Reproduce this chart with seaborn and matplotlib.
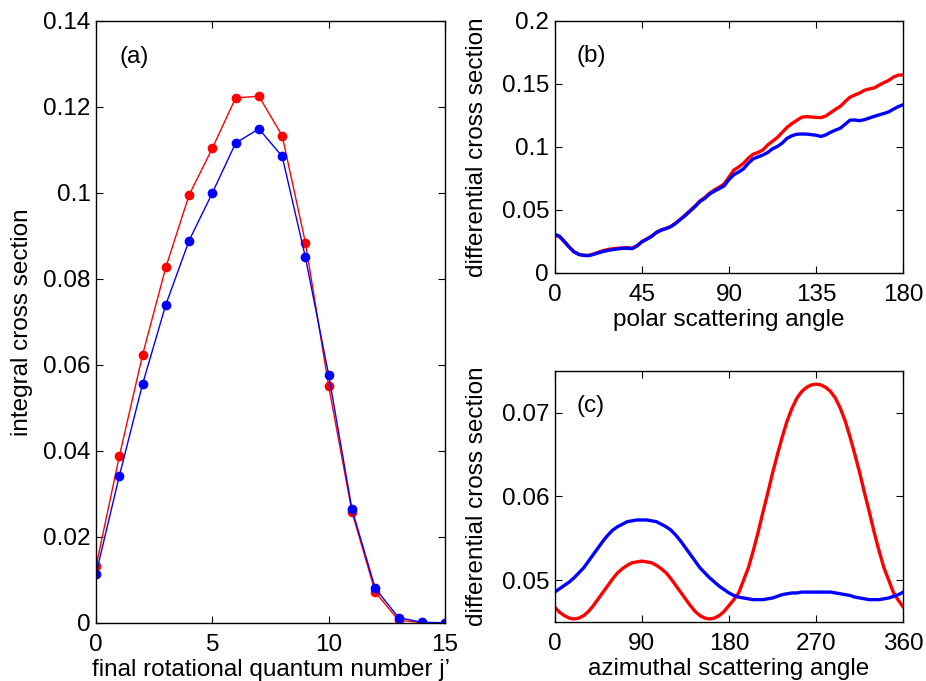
import matplotlib
matplotlib.use("Agg")
import matplotlib.pyplot as plt
import numpy as np
import pandas as pd
import seaborn as sns

# ---- data ----
j_values = list(range(16))
ics_red = [0.0131, 0.0387, 0.0623, 0.0827, 0.0995, 0.1104, 0.1221, 0.1225,
           0.1133, 0.0884, 0.0550, 0.0258, 0.0071, 0.0006, 0.0000, 0.0000]
ics_blue = [0.0114, 0.0341, 0.0555, 0.0740, 0.0889, 0.1000, 0.1116, 0.1149,
            0.1085, 0.0850, 0.0576, 0.0264, 0.0080, 0.0012, 0.0001, 0.0000]

# polar angle sampled every 2.5 degrees
polar_angle = np.arange(0, 180.1, 2.5)
dcs_polar_red = [
    0.0300, 0.0285, 0.0245, 0.0202, 0.0165, 0.0145, 0.0138, 0.0138, 0.0148,
    0.0162, 0.0175, 0.0184, 0.0190, 0.0194, 0.0197, 0.0198, 0.0195, 0.0214,
    0.0246, 0.0268, 0.0290, 0.0320, 0.0340, 0.0352, 0.0368, 0.0395, 0.0427,
    0.0460, 0.0495, 0.0530, 0.0570, 0.0597, 0.0632, 0.0658, 0.0680, 0.0705,
    0.0760, 0.0815, 0.0840, 0.0870, 0.0910, 0.0942, 0.0955, 0.0975, 0.1015,
    0.1045, 0.1075, 0.1115, 0.1155, 0.1185, 0.1210, 0.1235, 0.1240, 0.1237,
    0.1234, 0.1232, 0.1245, 0.1272, 0.1298, 0.1322, 0.1360, 0.1395, 0.1412,
    0.1428, 0.1450, 0.1460, 0.1468, 0.1490, 0.1510, 0.1528, 0.1555, 0.1570,
    0.1571]
dcs_polar_blue = [
    0.0305, 0.0290, 0.0248, 0.0204, 0.0166, 0.0145, 0.0137, 0.0135, 0.0145,
    0.0157, 0.0168, 0.0177, 0.0183, 0.0189, 0.0193, 0.0194, 0.0191, 0.0212,
    0.0245, 0.0265, 0.0288, 0.0318, 0.0338, 0.0350, 0.0366, 0.0392, 0.0423,
    0.0455, 0.0490, 0.0525, 0.0565, 0.0590, 0.0625, 0.0648, 0.0668, 0.0690,
    0.0740, 0.0778, 0.0800, 0.0825, 0.0870, 0.0905, 0.0920, 0.0935, 0.0955,
    0.0985, 0.1003, 0.1030, 0.1068, 0.1088, 0.1100, 0.1102, 0.1101, 0.1097,
    0.1092, 0.1082, 0.1095, 0.1116, 0.1133, 0.1148, 0.1180, 0.1212, 0.1213,
    0.1208, 0.1216, 0.1229, 0.1242, 0.1254, 0.1265, 0.1278, 0.1300, 0.1320,
    0.1335]

azimuth_angle = list(range(0, 361, 5))
dcs_azimuth_red = [
    0.0468, 0.0462, 0.0458, 0.0455, 0.0454, 0.0455, 0.0458, 0.0463, 0.0470,
    0.0478, 0.0486, 0.0494, 0.0502, 0.0509, 0.0514, 0.0518, 0.0521, 0.0522,
    0.0523,
    0.0522, 0.0521, 0.0518, 0.0514, 0.0509, 0.0502, 0.0494, 0.0486, 0.0478,
    0.0470, 0.0463, 0.0458, 0.0455, 0.0454, 0.0455, 0.0458, 0.0463, 0.0470,
    0.0477, 0.0485, 0.0500, 0.0515, 0.0535, 0.0557, 0.0581, 0.0604, 0.0628,
    0.0650, 0.0671, 0.0690, 0.0705, 0.0717, 0.0725, 0.0730, 0.0733, 0.0734,
    0.0733, 0.0730, 0.0725, 0.0717, 0.0705, 0.0690, 0.0671, 0.0650, 0.0628,
    0.0604, 0.0581, 0.0557, 0.0535, 0.0515, 0.0500, 0.0485, 0.0476, 0.0468]
dcs_azimuth_blue = [
    0.0486, 0.0490, 0.0494, 0.0498, 0.0503, 0.0509, 0.0515, 0.0523, 0.0531,
    0.0539, 0.0547, 0.0554, 0.0560, 0.0564, 0.0567, 0.0570, 0.0571, 0.0572,
    0.0572,
    0.0572, 0.0571, 0.0570, 0.0567, 0.0564, 0.0560, 0.0554, 0.0547, 0.0539,
    0.0531, 0.0523, 0.0515, 0.0509, 0.0503, 0.0498, 0.0493, 0.0489, 0.0485,
    0.0482, 0.0480, 0.0479, 0.0478, 0.0477, 0.0477, 0.0477, 0.0478, 0.0479,
    0.0481, 0.0483, 0.0484, 0.0485, 0.0485, 0.0486, 0.0486, 0.0486, 0.0486,
    0.0486, 0.0486, 0.0486, 0.0485, 0.0484, 0.0483, 0.0482, 0.0480, 0.0479,
    0.0478, 0.0477, 0.0477, 0.0477, 0.0478, 0.0479, 0.0481, 0.0483, 0.0486]

RED = "#ff0000"
BLUE = "#0000ff"
FS = 17.5


def set_style():
    sns.set_theme(style="ticks", rc={
        "xtick.direction": "in",
        "ytick.direction": "in",
        "xtick.top": True,
        "ytick.right": True,
        "xtick.major.size": 5,
        "ytick.major.size": 5,
        "xtick.major.width": 0.8,
        "ytick.major.width": 0.8,
        "xtick.major.pad": 8,
        "ytick.major.pad": 4,
        "axes.linewidth": 1.0,
        "axes.edgecolor": "black",
        "xtick.color": "black",
        "ytick.color": "black",
        "text.color": "black",
        "axes.labelcolor": "black",
        "font.size": FS,
        "axes.labelsize": FS,
        "xtick.labelsize": FS,
        "ytick.labelsize": FS,
    })
    plt.rcParams["font.family"] = ["Liberation Sans", "DejaVu Sans"]


def fmt_axis(ax, xlim, xticks, ylim, yticks):
    ax.set_xlim(*xlim)
    ax.set_ylim(*ylim)
    ax.set_xticks(xticks)
    ax.set_yticks(yticks)
    ax.set_xticklabels(["%g" % t for t in xticks])
    ax.set_yticklabels(["%g" % t for t in yticks])


set_style()
fig = plt.figure(figsize=(9.26, 6.81), dpi=100)
ax_a = fig.add_axes([0.1037, 0.0856, 0.3769, 0.8836])
ax_b = fig.add_axes([0.5990, 0.5996, 0.3765, 0.3696])
ax_c = fig.add_axes([0.5990, 0.0862, 0.3765, 0.3695])

# (a) integral cross sections
sns.lineplot(x=j_values, y=ics_red, ax=ax_a, color=RED, linewidth=1,
             marker="o", markersize=7, markeredgewidth=0)
sns.lineplot(x=j_values, y=ics_blue, ax=ax_a, color=BLUE, linewidth=1,
             marker="o", markersize=7, markeredgewidth=0)
fmt_axis(ax_a, (0, 15), [0, 5, 10, 15], (0, 0.14),
         [0, 0.02, 0.04, 0.06, 0.08, 0.1, 0.12, 0.14])
ax_a.set_xlabel("final rotational quantum number j\u2019", labelpad=2)
ax_a.set_ylabel("integral cross section")
ax_a.yaxis.set_label_coords(-0.18, 0.5)
ax_a.text(0.066, 0.94, "(a)", transform=ax_a.transAxes, fontsize=FS,
          ha="left", va="center")

# (b) polar DCS
sns.lineplot(x=polar_angle, y=dcs_polar_red, ax=ax_b, color=RED, linewidth=2.4)
sns.lineplot(x=polar_angle, y=dcs_polar_blue, ax=ax_b, color=BLUE, linewidth=2.4)
fmt_axis(ax_b, (0, 180), [0, 45, 90, 135, 180], (0, 0.2),
         [0, 0.05, 0.1, 0.15, 0.2])
ax_b.set_xlabel("polar scattering angle", labelpad=2)
ax_b.set_ylabel("differential cross section")
ax_b.yaxis.set_label_coords(-0.19, 0.5)
ax_b.text(0.064, 0.86, "(b)", transform=ax_b.transAxes, fontsize=FS,
          ha="left", va="center")

# (c) azimuthal DCS
sns.lineplot(x=azimuth_angle, y=dcs_azimuth_red, ax=ax_c, color=RED, linewidth=2.4)
sns.lineplot(x=azimuth_angle, y=dcs_azimuth_blue, ax=ax_c, color=BLUE, linewidth=2.4)
fmt_axis(ax_c, (0, 360), [0, 90, 180, 270, 360], (0.045, 0.075),
         [0.05, 0.06, 0.07])
ax_c.set_xlabel("azimuthal scattering angle", labelpad=2)
ax_c.set_ylabel("differential cross section")
ax_c.yaxis.set_label_coords(-0.19, 0.5)
ax_c.text(0.064, 0.858, "(c)", transform=ax_c.transAxes, fontsize=FS,
          ha="left", va="center")

fig.savefig("out.png", dpi=100)
